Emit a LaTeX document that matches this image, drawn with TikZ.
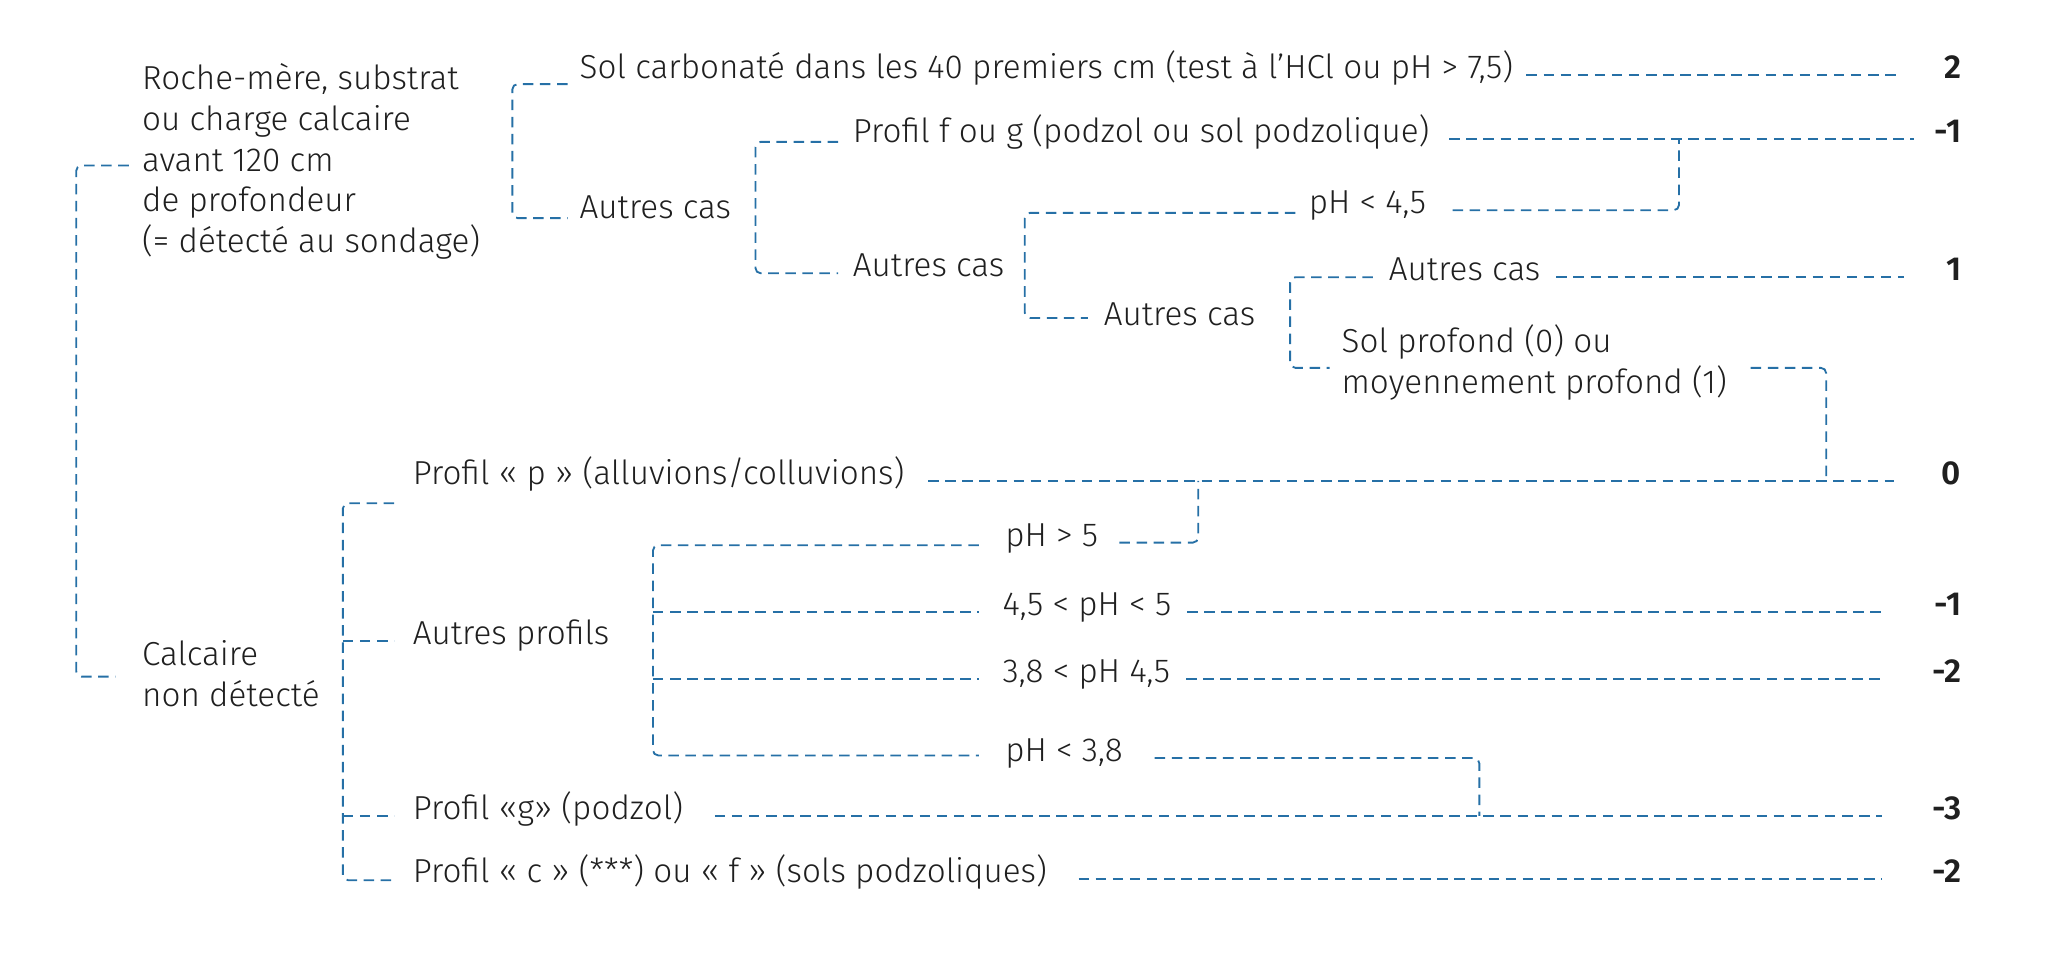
\documentclass[tikz,border=0pt]{standalone}
\usepackage{fontspec}
\setmainfont{Fira Sans Light}[BoldFont={Fira Sans SemiBold}]
\usepackage{xcolor}
\usepackage{tikz}
\usetikzlibrary{positioning, calc}
\colorlet{SOLtext}{black!88}
\definecolor{SOLblue}{RGB}{38,112,166}

\begin{document}
\begin{tikzpicture}[x=1pt, y=-1pt,
    txt/.style={anchor=mid west, inner sep=0pt, text=SOLtext, font=\fontsize{25.3}{31}\selectfont},
    multi/.style={txt, anchor=west, align=left},
    score/.style={anchor=mid east, inner sep=0pt, text=SOLtext, font=\fontsize{25.3}{31}\selectfont\bfseries},
    link/.style={draw=SOLblue, line width=1.4pt, dash pattern=on 8pt off 5pt, rounded corners=4pt}]
        \useasboundingbox (0,0) rectangle (1568,731);
        % left column
        \node[multi] (roche) at (108,123) {Roche-mère, substrat\\ou charge calcaire\\avant 120 cm\\de profondeur\\(= détecté au sondage)};
        \node[multi] (calc) at (108,513) {Calcaire\\non détecté};
        % upper branch
        \node[txt] (carb) at (441,57) {Sol carbonaté dans les 40 premiers cm (test à l’HCl ou pH > 7,5)};
        \node[txt] (autresA) at (441,164) {Autres cas};
        \node[txt] (podzA) at (649,106) {Profil f ou g (podzol ou sol podzolique)};
        \node[txt] (autresB) at (649,208) {Autres cas};
        \node[txt] (phA) at (996,160) {pH < 4,5};
        \node[txt] (autresC) at (840,245) {Autres cas};
        \node[txt] (autresD) at (1057,211) {Autres cas};
        \node[multi] (solprof) at (1021,276) {Sol profond (0) ou\\moyennement profond (1)};
        % lower branch
        \node[txt] (profP) at (314,366) {Profil « p » (alluvions/colluvions)};
        \node[txt] (autresP) at (314,488) {Autres profils};
        \node[txt] (profG) at (314,621) {Profil «g» (podzol)};
        \node[txt] (profCF) at (314,669) {Profil « c » (***) ou « f » (sols podzoliques)};
        \node[txt] (phB) at (765,413) {pH > 5};
        \node[txt] (phC) at (763,466) {4,5 < pH < 5};
        \node[txt] (phD) at (763,517) {3,8 < pH 4,5};
        \node[txt] (phE) at (765,577) {pH < 3,8};
        % scores
        \node[score] (s2) at (1493,57) {2};
        \node[score] (sm1) at (1493,106) {-1};
        \node[score] (s1) at (1493,211) {1};
        \node[score] (s0) at (1493,366) {0};
        \node[score] (sm1b) at (1493,466) {-1};
        \node[score] (sm2) at (1493,517) {-2};
        \node[score] (sm3) at (1493,621) {-3};
        \node[score] (sm2b) at (1493,669) {-2};
        % junction points
        \coordinate (jA) at (1278,106);
        \coordinate (jB) at (1390,366);
        \coordinate (jC) at (912,366);
        \coordinate (jD) at (1126,621);

        % brackets
        \draw[link] ([xshift=-10pt,yshift=-3pt]roche.west) -| (58,300) |- ([xshift=-20pt,yshift=-2pt]calc.west);
        \draw[link] ([xshift=-9pt,yshift=-7pt]carb.mid west) -| (390,110) |- ([xshift=-9pt,yshift=-2pt]autresA.mid west);
        \draw[link] ([xshift=-11pt,yshift=-2pt]podzA.mid west) -| (575,150) |- ([xshift=-11pt]autresB.mid west);
        \draw[link] ([xshift=-10pt,yshift=-2pt]phA.mid west) -| (780,200) |- ([xshift=-12pt,yshift=3pt]autresC.mid west);
        \draw[link] ([xshift=-12pt]autresD.mid west) -| (982,250) |- ([xshift=-9pt,yshift=-4pt]solprof.west);
        \draw[link] ([xshift=-14pt,yshift=-17pt]profP.mid west) -| (261,500) |- ([xshift=-14pt,yshift=-1pt]profCF.mid west);
        \draw[link] (261,488) -- ([xshift=-14pt]autresP.mid west);
        \draw[link] (261,621) -- ([xshift=-14pt]profG.mid west);
        \draw[link] ([xshift=-20pt,yshift=-2pt]phB.mid west) -| (497,500) |- ([xshift=-20pt,yshift=2pt]phE.mid west);
        \draw[link] (497,466) -- ([xshift=-18pt]phC.mid west);
        \draw[link] (497,517) -- ([xshift=-18pt]phD.mid west);

        % to the scores
        \draw[link, shorten <=10pt, shorten >=36pt] (carb.mid east) -- (s2.mid west);
        \draw[link, shorten <=15pt, shorten >=16pt] (podzA.mid east) -- (sm1.mid west);
        \draw[link, shorten <=20pt] (phA.mid east) -| (jA);
        \draw[link, shorten <=12pt, shorten >=32pt] (autresD.mid east) -- (s1.mid west);
        \draw[link, shorten <=18pt] ([yshift=-4pt]solprof.east) -| (jB);
        \draw[link, shorten <=18pt, shorten >=36pt] (profP.mid east) -- (s0.mid west);
        \draw[link, shorten <=16pt] (phB.mid east) -| (jC);
        \draw[link, shorten <=12pt, shorten >=39pt] (phC.mid east) -- (sm1b.mid west);
        \draw[link, shorten <=12pt, shorten >=39pt] (phD.mid east) -- (sm2.mid west);
        \draw[link, shorten <=24pt] (phE.mid east) -| (jD);
        \draw[link, shorten <=24pt, shorten >=38pt] (profG.mid east) -- (sm3.mid west);
        \draw[link, shorten <=24pt, shorten >=38pt] (profCF.mid east) -- (sm2b.mid west);
\end{tikzpicture}
\end{document}
